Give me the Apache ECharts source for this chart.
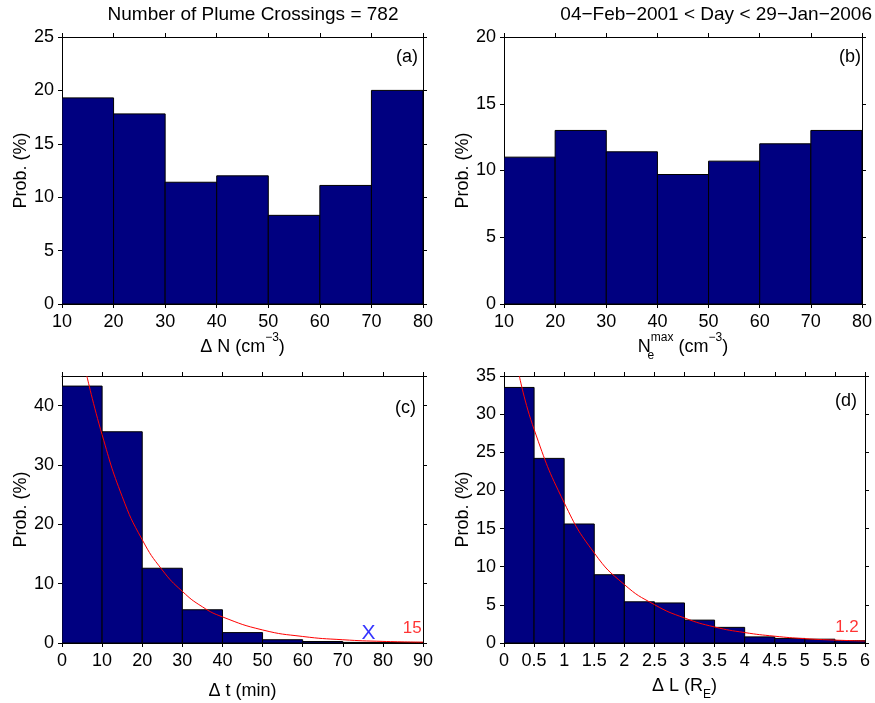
<!DOCTYPE html>
<html><head><meta charset="utf-8">
<script src="https://cdn.jsdelivr.net/npm/echarts@6/dist/echarts.min.js"></script>
<style>html,body{margin:0;padding:0;background:#fff}#c{width:875px;height:703px}</style>
</head><body><div id="c"></div>
<script>
const FONT = "'Liberation Sans', Arial, Helvetica, sans-serif";

// ---- Panel (a): Delta N ----
const edgesA = [10, 20, 30, 40, 50, 60, 70, 80];
const probA = [19.3, 17.8, 11.4, 12.0, 8.3, 11.1, 20.0];
// ---- Panel (b): Ne max ----
const edgesB = [10, 20, 30, 40, 50, 60, 70, 80];
const probB = [11.0, 13.0, 11.4, 9.7, 10.7, 12.0, 13.0];
// ---- Panel (c): Delta t ----
const edgesC = [0, 10, 20, 30, 40, 50, 60, 70, 80, 90];
const probC = [43.3, 35.6, 12.6, 5.6, 1.75, 0.55, 0.25, 0.1, 0.1];
const fitCx = [6.2, 10, 15, 20, 25, 30, 35, 40, 50, 60, 70, 80, 90];
const fitCy = [45, 35.1, 24.7, 17.4, 12.3, 8.7, 6.1, 4.4, 2.2, 1.1, 0.55, 0.27, 0.14];
const markC = [76.4, 1.57];
const fitCText = '15';
const fitCTextAt = [87.3, 2.4];
// ---- Panel (d): Delta L ----
const edgesD = [0, 0.5, 1, 1.5, 2, 2.5, 3, 3.5, 4, 4.5, 5, 5.5, 6];
const probD = [33.5, 24.2, 15.6, 8.95, 5.4, 5.25, 3.0, 2.05, 0.8, 0.6, 0.5, 0.3];
const fitDx = [0.255, 0.5, 1, 1.5, 2, 2.5, 3, 3.5, 4, 4.5, 5, 5.5, 6];
const fitDy = [35, 28.0, 18.4, 11.8, 7.66, 5.03, 3.28, 2.1, 1.37, 0.89, 0.57, 0.38, 0.26];
const fitDText = '1.2';
const fitDTextAt = [5.70, 2.0];

const titleLeft = 'Number of Plume Crossings = 782';
const titleRight = '04\u2212Feb\u22122001 < Day < 29\u2212Jan\u22122006';
const panelTags = ['(a)', '(b)', '(c)', '(d)'];

function bins(edges, vals) {
  return vals.map((v, i) => [edges[i], edges[i + 1], v]);
}

const grids = [
  { left: 62, top: 37, width: 361, height: 267 },
  { left: 504, top: 37, width: 361, height: 267 },
  { left: 62, top: 376, width: 361, height: 267 },
  { left: 504, top: 376, width: 361, height: 267 }
];

const rich = {
  t: { fontSize: 18, fontFamily: FONT, color: '#000', lineHeight: 30 },
  sup: { fontSize: 12, fontFamily: FONT, color: '#000', lineHeight: 12, verticalAlign: 'top' },
  sub: { fontSize: 12, fontFamily: FONT, color: '#000', lineHeight: 18, verticalAlign: 'bottom' },
  subz: { fontSize: 12, fontFamily: FONT, color: '#000', lineHeight: 18, verticalAlign: 'bottom', width: 0 }
};

const xSpec = [
  { min: 10, max: 80, interval: 10, name: '{t|\u0394 N (cm}{sup|\u22123}{t|)}', gap: 26 },
  { min: 10, max: 80, interval: 10, name: '{t|N}{subz|e}{sup|max}{t| (cm}{sup|\u22123}{t|)}', gap: 28 },
  { min: 0, max: 90, interval: 10, name: '{t|\u0394 t (min)}', gap: 33 },
  { min: 0, max: 6, interval: 0.5, name: '{t|\u0394 L (R}{sub|E}{t|)}', gap: 28 }
];
const ySpec = [
  { min: 0, max: 25, interval: 5 },
  { min: 0, max: 20, interval: 5 },
  { min: 0, max: 45, interval: 10 },
  { min: 0, max: 35, interval: 5 }
];

const axLine = { show: true, onZero: false, lineStyle: { color: '#000', width: 1 } };
const axTick = { show: true, length: 4, lineStyle: { color: '#000', width: 1 } };
const labelBase = { color: '#000', fontSize: 18, fontFamily: FONT };

const xAxis = [], yAxis = [];
xSpec.forEach((s, i) => {
  xAxis.push({
    type: 'value', gridIndex: i, position: 'bottom', min: s.min, max: s.max, interval: s.interval,
    axisLine: axLine, axisTick: axTick, splitLine: { show: false },
    axisLabel: Object.assign({ margin: 9 }, labelBase),
    name: s.name, nameLocation: 'middle', nameGap: s.gap,
    nameTextStyle: { rich: rich, fontSize: 18, fontFamily: FONT, color: '#000' }
  });
  xAxis.push({
    type: 'value', gridIndex: i, position: 'top', min: s.min, max: s.max, interval: s.interval,
    axisLine: axLine, axisTick: axTick, splitLine: { show: false }, axisLabel: { show: false }
  });
});
ySpec.forEach((s, i) => {
  yAxis.push({
    type: 'value', gridIndex: i, position: 'left', min: s.min, max: s.max, interval: s.interval,
    axisLine: axLine, axisTick: axTick, splitLine: { show: false },
    axisLabel: Object.assign({ margin: 8, showMaxLabel: i === 2 ? false : true }, labelBase),
    name: 'Prob. (%)', nameLocation: 'middle', nameGap: 31,
    nameTextStyle: { fontSize: 18, fontFamily: FONT, color: '#000' }
  });
  yAxis.push({
    type: 'value', gridIndex: i, position: 'right', min: s.min, max: s.max, interval: s.interval,
    axisLine: axLine, axisTick: axTick, splitLine: { show: false }, axisLabel: { show: false }
  });
});

function histSeries(idx, edges, vals) {
  return {
    type: 'custom', xAxisIndex: idx * 2, yAxisIndex: idx * 2, clip: true,
    data: bins(edges, vals),
    renderItem: function (params, api) {
      const p0 = api.coord([api.value(0), 0]);
      const p1 = api.coord([api.value(1), api.value(2)]);
      return {
        type: 'rect',
        shape: { x: p0[0], y: p1[1], width: p1[0] - p0[0], height: p0[1] - p1[1] },
        style: { fill: '#000080', stroke: '#000', lineWidth: 1 }
      };
    },
    z: 2
  };
}
function fitSeries(idx, xs, ys) {
  return {
    type: 'line', xAxisIndex: idx * 2, yAxisIndex: idx * 2, clip: true,
    data: xs.map((x, i) => [x, ys[i]]), showSymbol: false, symbol: 'none',
    smooth: 0.5,
    lineStyle: { color: '#ff0000', width: 1 }, z: 5, silent: true
  };
}
function textSeries(idx, pt, txt, color, size) {
  return {
    type: 'scatter', xAxisIndex: idx * 2, yAxisIndex: idx * 2,
    data: [pt], symbolSize: 1, itemStyle: { color: 'rgba(0,0,0,0)' },
    label: { show: true, position: 'inside', formatter: txt, color: color, fontSize: size, fontFamily: FONT },
    z: 6, silent: true
  };
}

const series = [
  histSeries(0, edgesA, probA),
  histSeries(1, edgesB, probB),
  histSeries(2, edgesC, probC),
  histSeries(3, edgesD, probD),
  fitSeries(2, fitCx, fitCy),
  fitSeries(3, fitDx, fitDy),
  textSeries(2, markC, 'X', '#0000ff', 21),
  textSeries(2, fitCTextAt, fitCText, '#ff0000', 17),
  textSeries(3, fitDTextAt, fitDText, '#ff0000', 17)
];

const tagPos = [[418, 57], [861, 57], [416, 408], [857, 401]];
const graphic = [
  { type: 'text', x: 253, y: 15, style: { text: titleLeft, fontSize: 19, fontFamily: FONT, fill: '#000', align: 'center', verticalAlign: 'middle' } },
  { type: 'text', x: 872, y: 15, style: { text: titleRight, fontSize: 19, fontFamily: FONT, fill: '#000', align: 'right', verticalAlign: 'middle' } }
].concat(panelTags.map((t, i) => ({
  type: 'text', x: tagPos[i][0], y: tagPos[i][1], z: 10,
  style: { text: t, fontSize: 18, fontFamily: FONT, fill: '#000', align: 'right', verticalAlign: 'middle' }
})));

const chart = echarts.init(document.getElementById('c'), null, { renderer: 'canvas' });
chart.setOption({
  animation: false,
  backgroundColor: '#fff',
  grid: grids,
  xAxis: xAxis,
  yAxis: yAxis,
  series: series,
  graphic: graphic
});
</script></body></html>
